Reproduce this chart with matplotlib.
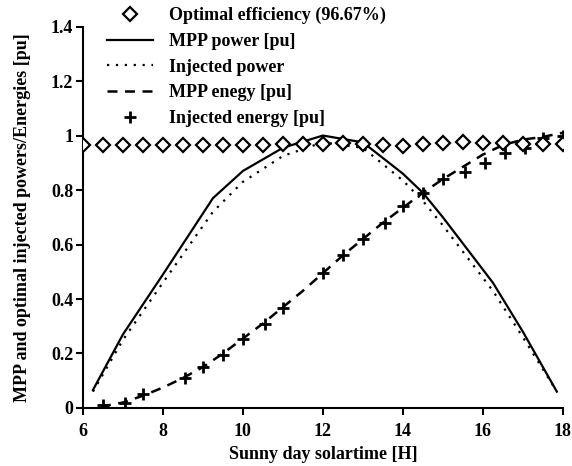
import matplotlib.pyplot as plt

plt.rcParams['font.family'] = ['Liberation Serif', 'DejaVu Serif']
plt.rcParams['font.weight'] = 'bold'
plt.rcParams['axes.labelweight'] = 'bold'

# optimal efficiency (diamonds), every half hour
eff_t = [6, 6.5, 7, 7.5, 8, 8.5, 9, 9.5, 10, 10.5, 11, 11.5, 12, 12.5,
         13, 13.5, 14, 14.5, 15, 15.5, 16, 16.5, 17, 17.5, 18]
eff = [0.967, 0.967, 0.967, 0.967, 0.967, 0.967, 0.967, 0.967, 0.967, 0.967,
       0.968, 0.970, 0.970, 0.972, 0.968, 0.966, 0.962, 0.968, 0.972, 0.975,
       0.974, 0.972, 0.970, 0.970, 0.970]

# MPP power and injected power
pow_t = [6.25, 7, 8, 9.25, 10, 11, 12, 13, 14, 14.5, 15, 16.25, 17, 17.85]
mpp_power = [0.066, 0.27, 0.49, 0.77, 0.87, 0.955, 1.0, 0.975, 0.86, 0.79,
             0.70, 0.46, 0.28, 0.06]
inj_power = [0.06, 0.25, 0.46, 0.72, 0.83, 0.925, 0.975, 0.955, 0.835, 0.76,
             0.67, 0.43, 0.26, 0.06]

# MPP energy (dashed line)
en_t = [6.45, 7, 7.5, 8, 8.5, 9, 9.5, 10, 10.5, 11, 11.5, 12, 12.5, 13,
        13.5, 14, 14.5, 15, 15.5, 16, 16.5, 17, 17.5, 18]
mpp_energy = [0.005, 0.02, 0.045, 0.075, 0.11, 0.15, 0.2, 0.255, 0.31, 0.37,
              0.43, 0.495, 0.56, 0.62, 0.68, 0.735, 0.79, 0.84, 0.885, 0.93,
              0.965, 0.985, 0.995, 1.01]

# injected energy (+ markers)
inj_t = [6.5, 7.05, 7.5, 8.55, 9.0, 9.5, 10.0, 10.55, 11.0, 12.0, 12.5, 13.0,
         13.55, 14.0, 14.5, 15.0, 15.55, 16.05, 16.55, 17.05, 17.5, 18.0]
inj_energy = [0.01, 0.02, 0.05, 0.11, 0.15, 0.195, 0.253, 0.31, 0.367, 0.495,
              0.56, 0.62, 0.68, 0.74, 0.79, 0.84, 0.866, 0.90, 0.935, 0.955,
              0.99, 1.0]

fig = plt.figure(figsize=(5.72, 4.66), dpi=100)
ax = fig.add_axes([0.145, 0.1245, 0.839, 0.8185])

ax.plot(eff_t, eff, linestyle='none', marker='D', markersize=7,
        markerfacecolor='white', markeredgecolor='black', markeredgewidth=1.6,
        label='Optimal efficiency (96.67%)', zorder=3)
ax.plot(pow_t, mpp_power, color='black', lw=1.6, label='MPP power [pu]')
ax.plot(pow_t, inj_power, color='black', lw=1.6, linestyle=(0, (1, 3)),
        label='Injected power')
ax.plot(en_t, mpp_energy, color='black', lw=1.8, linestyle=(0, (4, 3)),
        label='MPP enegy [pu]')
ax.plot(inj_t, inj_energy, linestyle='none', marker='+', markersize=8,
        markeredgewidth=2, color='black', label='Injected energy [pu]')

ax.set_xlim(6, 18)
ax.set_ylim(0, 1.4)
ax.set_xticks([6, 8, 10, 12, 14, 16, 18])
ax.set_yticks([0, 0.2, 0.4, 0.6, 0.8, 1.0, 1.2, 1.4])
ax.set_yticklabels(['0', '0.2', '0.4', '0.6', '0.8', '1', '1.2', '1.4'])
ax.spines['top'].set_visible(False)
ax.spines['right'].set_visible(False)
ax.spines['left'].set_linewidth(1.5)
ax.spines['bottom'].set_linewidth(1.5)
ax.tick_params(direction='out', length=5, width=1.5, labelsize=13, pad=2)
ax.tick_params(axis='x', pad=6)
ax.set_xlabel('Sunny day solartime [H]', fontsize=13, labelpad=4)
ax.set_ylabel('MPP and optimal injected powers/Energies [pu]', fontsize=13,
              labelpad=14)

fig.legend(loc='upper left', bbox_to_anchor=(0.165, 1.012), frameon=False,
           fontsize=13, handlelength=2.55, handletextpad=0.9, labelspacing=0.48,
           borderpad=0.2)

fig.savefig('out.png', dpi=100)
